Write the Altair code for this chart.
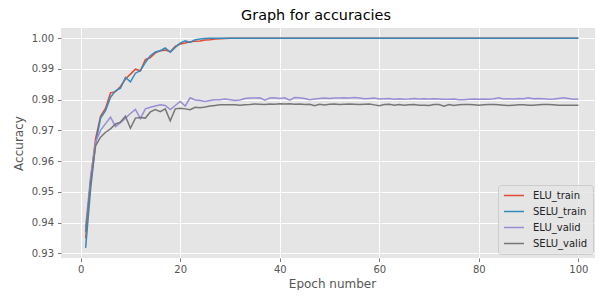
import altair as alt
import pandas as pd

epochs = list(range(1, 101))

elu_train = [
    0.9349, 0.9540, 0.9673, 0.9746, 0.9772, 0.9822, 0.9826, 0.9843, 0.9867, 0.9883,
    0.9899, 0.9894, 0.9930, 0.9937, 0.9952, 0.9959, 0.9961, 0.9956, 0.9973, 0.9981,
    0.9984, 0.9988, 0.9990, 0.9991, 0.9994, 0.9995, 0.9997, 0.9998, 0.9999, 1.0000,
    1.0000, 1.0000, 1.0000, 1.0000, 1.0000, 1.0000, 1.0000, 1.0000, 1.0000, 1.0000,
    1.0000, 1.0000, 1.0000, 1.0000, 1.0000, 1.0000, 1.0000, 1.0000, 1.0000, 1.0000,
    1.0000, 1.0000, 1.0000, 1.0000, 1.0000, 1.0000, 1.0000, 1.0000, 1.0000, 1.0000,
    1.0000, 1.0000, 1.0000, 1.0000, 1.0000, 1.0000, 1.0000, 1.0000, 1.0000, 1.0000,
    1.0000, 1.0000, 1.0000, 1.0000, 1.0000, 1.0000, 1.0000, 1.0000, 1.0000, 1.0000,
    1.0000, 1.0000, 1.0000, 1.0000, 1.0000, 1.0000, 1.0000, 1.0000, 1.0000, 1.0000,
    1.0000, 1.0000, 1.0000, 1.0000, 1.0000, 1.0000, 1.0000, 1.0000, 1.0000, 1.0000,
]

selu_train = [
    0.9318, 0.9510, 0.9656, 0.9740, 0.9764, 0.9808, 0.9829, 0.9837, 0.9872, 0.9858,
    0.9886, 0.9894, 0.9921, 0.9943, 0.9955, 0.9959, 0.9968, 0.9954, 0.9970, 0.9984,
    0.9991, 0.9986, 0.9995, 0.9997, 0.9999, 1.0000, 1.0000, 1.0000, 1.0000, 1.0000,
    1.0000, 1.0000, 1.0000, 1.0000, 1.0000, 1.0000, 1.0000, 1.0000, 1.0000, 1.0000,
    1.0000, 1.0000, 1.0000, 1.0000, 1.0000, 1.0000, 1.0000, 1.0000, 1.0000, 1.0000,
    1.0000, 1.0000, 1.0000, 1.0000, 1.0000, 1.0000, 1.0000, 1.0000, 1.0000, 1.0000,
    1.0000, 1.0000, 1.0000, 1.0000, 1.0000, 1.0000, 1.0000, 1.0000, 1.0000, 1.0000,
    1.0000, 1.0000, 1.0000, 1.0000, 1.0000, 1.0000, 1.0000, 1.0000, 1.0000, 1.0000,
    1.0000, 1.0000, 1.0000, 1.0000, 1.0000, 1.0000, 1.0000, 1.0000, 1.0000, 1.0000,
    1.0000, 1.0000, 1.0000, 1.0000, 1.0000, 1.0000, 1.0000, 1.0000, 1.0000, 1.0000,
]

elu_valid = [
    0.9385, 0.9550, 0.9662, 0.9700, 0.9722, 0.9743, 0.9712, 0.9725, 0.9740, 0.9755,
    0.9768, 0.9738, 0.9770, 0.9775, 0.9779, 0.9783, 0.9781, 0.9768, 0.9781, 0.9794,
    0.9779, 0.9806, 0.9799, 0.9797, 0.9794, 0.9797, 0.9800, 0.9800, 0.9802, 0.9800,
    0.9797, 0.9799, 0.9804, 0.9805, 0.9805, 0.9806, 0.9798, 0.9805, 0.9806, 0.9804,
    0.9806, 0.9798, 0.9807, 0.9806, 0.9804, 0.9800, 0.9802, 0.9804, 0.9805, 0.9804,
    0.9805, 0.9805, 0.9806, 0.9805, 0.9807, 0.9805, 0.9803, 0.9804, 0.9805, 0.9802,
    0.9803, 0.9804, 0.9801, 0.9803, 0.9801, 0.9802, 0.9804, 0.9802, 0.9803, 0.9802,
    0.9803, 0.9802, 0.9801, 0.9801, 0.9802, 0.9800, 0.9800, 0.9801, 0.9802, 0.9801,
    0.9802, 0.9801, 0.9803, 0.9806, 0.9802, 0.9803, 0.9802, 0.9804, 0.9803, 0.9806,
    0.9803, 0.9804, 0.9803, 0.9801, 0.9802, 0.9804, 0.9806, 0.9804, 0.9801, 0.9802,
]

selu_valid = [
    0.9370, 0.9530, 0.9650, 0.9678, 0.9694, 0.9705, 0.9721, 0.9727, 0.9746, 0.9707,
    0.9740, 0.9742, 0.9740, 0.9760, 0.9768, 0.9761, 0.9770, 0.9731, 0.9770, 0.9772,
    0.9770, 0.9767, 0.9775, 0.9774, 0.9776, 0.9779, 0.9781, 0.9783, 0.9783, 0.9783,
    0.9783, 0.9782, 0.9783, 0.9784, 0.9786, 0.9785, 0.9784, 0.9786, 0.9785, 0.9787,
    0.9786, 0.9787, 0.9785, 0.9786, 0.9784, 0.9785, 0.9780, 0.9785, 0.9783, 0.9785,
    0.9786, 0.9784, 0.9785, 0.9786, 0.9785, 0.9784, 0.9785, 0.9786, 0.9783, 0.9780,
    0.9784, 0.9785, 0.9782, 0.9784, 0.9782, 0.9783, 0.9784, 0.9782, 0.9782, 0.9781,
    0.9784, 0.9784, 0.9779, 0.9784, 0.9781, 0.9783, 0.9784, 0.9784, 0.9783, 0.9782,
    0.9783, 0.9784, 0.9784, 0.9783, 0.9782, 0.9781, 0.9782, 0.9783, 0.9783, 0.9782,
    0.9782, 0.9783, 0.9784, 0.9784, 0.9783, 0.9782, 0.9782, 0.9782, 0.9782, 0.9782,
]

series_names = ["ELU_train", "SELU_train", "ELU_valid", "SELU_valid"]
series_colors = ["#E24A33", "#348ABD", "#988ED5", "#777777"]
x_ticks = [0, 20, 40, 60, 80, 100]
y_ticks = [0.93, 0.94, 0.95, 0.96, 0.97, 0.98, 0.99, 1.00]

rows = []
for name, vals in zip(series_names, [elu_train, selu_train, elu_valid, selu_valid]):
    for e, v in zip(epochs, vals):
        rows.append({"epoch": e, "acc": v, "series": name})
df = pd.DataFrame(rows)

FONT = "DejaVu Sans"

x_enc = alt.X(
    "epoch:Q",
    scale=alt.Scale(domain=[-3.95, 104.95], nice=False, zero=False),
    axis=alt.Axis(
        values=x_ticks, format="d", title="Epoch number",
        labelPadding=3, titlePadding=4,
    ),
)
y_enc = alt.Y(
    "acc:Q",
    scale=alt.Scale(domain=[0.9285, 1.0033], nice=False, zero=False),
    axis=alt.Axis(
        values=y_ticks, format=".2f", title="Accuracy",
        labelPadding=4, titlePadding=6,
    ),
)
color_enc = alt.Color(
    "series:N",
    scale=alt.Scale(domain=series_names, range=series_colors),
    legend=alt.Legend(
        orient="none", legendX=437, legendY=157, title=None,
        symbolType="stroke", symbolSize=400, symbolStrokeWidth=1.5,
        labelFontSize=10, labelFont=FONT, labelColor="#222222",
        fillColor="rgba(229,229,229,0.8)", strokeColor="#CCCCCC",
        cornerRadius=3, padding=5, rowPadding=5, labelOffset=8,
        clipHeight=11,
    ),
)

layers = []
for name in series_names:
    layers.append(
        alt.Chart(df)
        .transform_filter(alt.datum.series == name)
        .mark_line(strokeWidth=1.5)
        .encode(x=x_enc, y=y_enc, color=color_enc)
    )

chart = (
    alt.layer(*layers)
    .properties(
        width=542, height=230,
        title=alt.TitleParams(
            "Graph for accuracies", fontSize=14.4, font=FONT,
            fontWeight="normal", color="#000000", anchor="middle",
            offset=5, dx=-16,
        ),
        autosize=alt.AutoSizeParams(type="none"),
        padding={"left": 53, "top": 20, "right": -8, "bottom": 32},
    )
    .configure(background="white")
    .configure_view(fill="#E5E5E5", strokeWidth=0)
    .configure_axis(
        domain=False, grid=True, gridColor="white", gridWidth=1,
        labelFont=FONT, labelFontSize=10, labelColor="#555555",
        tickColor="#555555", tickSize=3.5, tickWidth=0.8,
        titleFont=FONT, titleFontSize=12, titleColor="#555555",
        titleFontWeight="normal",
    )
)

chart.save("out.html", embed_options={"renderer": "svg", "actions": False})
